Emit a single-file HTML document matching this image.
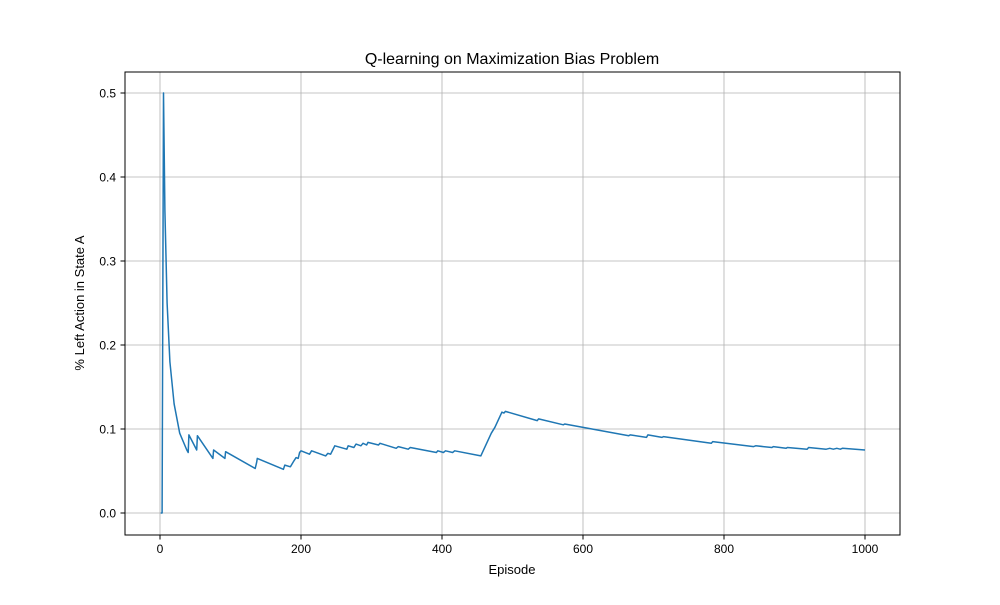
<!DOCTYPE html>
<html><head><meta charset="utf-8"><style>
body{margin:0;background:#fff}
svg text{font-family:"Liberation Sans","DejaVu Sans",sans-serif;fill:#000}
</style></head><body>
<svg id="chart" width="1000" height="600" xmlns="http://www.w3.org/2000/svg">
<rect width="1000" height="600" fill="#fff"/>
<g id="grid"></g>
<g id="ticks"></g>
<path id="line" fill="none" stroke="#1f77b4" stroke-width="1.5" stroke-linejoin="round"/>
<rect x="125" y="72" width="775" height="463" fill="none" stroke="#000" stroke-width="1"/>
<text x="512" y="64" font-size="16" text-anchor="middle">Q-learning on Maximization Bias Problem</text>
<text x="512" y="574" font-size="13" text-anchor="middle">Episode</text>
<text x="0" y="0" font-size="13" text-anchor="middle" transform="translate(84,303) rotate(-90)">% Left Action in State A</text>
</svg>
<script>
const episodes=[1,3,5,7,10,14,20,28,38,40,41,52,53,75,76,92,93,135,137,138,175,177,185,190,193,196,198,200,212,215,235,238,242,245,248,265,267,275,278,285,288,293,295,310,312,335,338,352,355,392,394,402,405,415,418,455,470,475,485,488,490,535,537,572,574,665,667,690,692,712,714,782,784,842,845,868,870,888,890,918,920,945,950,955,960,965,968,1000];
const values=[0,0,0.5,0.36,0.25,0.18,0.13,0.095,0.075,0.072,0.093,0.075,0.092,0.065,0.075,0.065,0.073,0.053,0.060,0.065,0.052,0.057,0.055,0.062,0.066,0.065,0.072,0.074,0.07,0.074,0.068,0.071,0.070,0.075,0.080,0.076,0.080,0.078,0.082,0.080,0.083,0.081,0.084,0.081,0.083,0.077,0.079,0.076,0.078,0.072,0.074,0.072,0.074,0.072,0.074,0.068,0.095,0.102,0.12,0.119,0.121,0.110,0.112,0.105,0.106,0.092,0.093,0.090,0.093,0.090,0.091,0.083,0.085,0.079,0.080,0.078,0.079,0.077,0.078,0.076,0.078,0.076,0.077,0.076,0.077,0.076,0.077,0.075];
const xTicks=[0,200,400,600,800,1000];
const yTicks=[0.0,0.1,0.2,0.3,0.4,0.5];
const X=v=>160+v*0.705, Y=v=>513-v*840;
const ns="http://www.w3.org/2000/svg";
const grid=document.getElementById('grid'), ticks=document.getElementById('ticks');
function mk(tag,attrs,parent){const e=document.createElementNS(ns,tag);for(const k in attrs)e.setAttribute(k,attrs[k]);parent.appendChild(e);return e;}
xTicks.forEach(t=>{
 const g=mk('line',{x1:X(t),x2:X(t),y1:72,y2:535,stroke:'#b0b0b0','stroke-width':0.8},grid);
 
 
 mk('line',{x1:X(t),x2:X(t),y1:535,y2:539.5,stroke:'#000'},ticks);
 const tx=mk('text',{x:X(t),y:553,'font-size':12,'text-anchor':'middle'},ticks);tx.textContent=t;
 
 
});
yTicks.forEach(t=>{
 const g=mk('line',{x1:125,x2:900,y1:Y(t),y2:Y(t),stroke:'#b0b0b0','stroke-width':0.8},grid);
 
 
 mk('line',{x1:120.5,x2:125,y1:Y(t),y2:Y(t),stroke:'#000'},ticks);
 const tx=mk('text',{x:116,y:Y(t)+4.5,'font-size':12,'text-anchor':'end'},ticks);tx.textContent=t.toFixed(1);
 
 
});
document.getElementById('line').setAttribute('d',episodes.map((e,i)=>(i?'L':'M')+X(e).toFixed(1)+','+Y(values[i]).toFixed(1)).join(''));
</script>
</body></html>
